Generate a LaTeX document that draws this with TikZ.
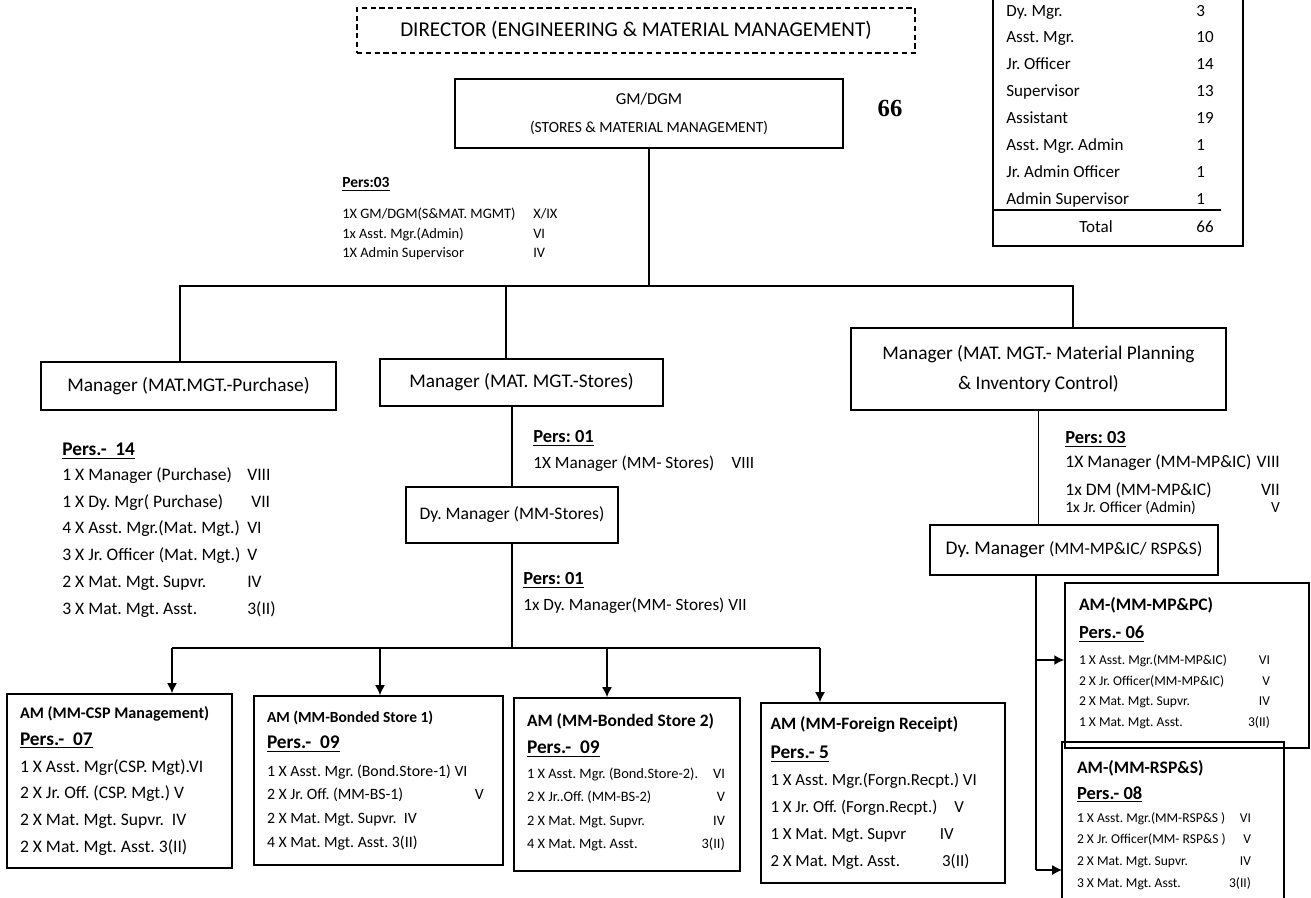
\documentclass[tikz,border=0pt]{standalone}
\usepackage{fontspec}
\setmainfont{Carlito}
\newfontfamily\bigserif{Liberation Serif}
\usetikzlibrary{positioning,arrows.meta}

\begin{document}
\frenchspacing
\begin{tikzpicture}[x=0.02cm,y=-0.02cm,
  unit/.style={draw=black,rectangle,line width=0.9pt,align=center,inner sep=2pt},
  ambox/.style={draw=black,rectangle,line width=0.9pt,align=flush left,inner xsep=0pt,inner ysep=3pt},
  pers/.style={align=left,inner sep=0pt,anchor=north west},
  tally/.style={inner sep=0pt,font=\fontsize{9.7}{12}\selectfont},
  link/.style={draw=black,line width=0.9pt},
  down/.style={-{Latex[length=2mm,width=2mm]},draw=black,line width=0.9pt}]
  \useasboundingbox (0,0) rectangle (1311,897);

  \node[unit,dash pattern=on 3pt off 2pt,minimum width=11.16cm,minimum height=0.9cm,font=\fontsize{12}{14}\selectfont] (dir) at (636,30.5) {DIRECTOR (ENGINEERING \& MATERIAL MANAGEMENT)};
  \node[unit,minimum width=7.76cm,minimum height=1.38cm,font=\fontsize{8.8}{16}\selectfont] (gm) at (649,113.5) {{\fontsize{9.5}{16}\selectfont GM/DGM}\\(STORES \& MATERIAL MANAGEMENT)};
  \node[inner sep=0pt,font=\bigserif\bfseries\fontsize{14}{16}\selectfont] (sum) at (890,108) {66};

  \foreach \lab/\num [count=\i from 0] in {Dy. Mgr./3,Asst. Mgr./10,Jr. Officer/14,Supervisor/13,Assistant/19,Asst. Mgr. Admin/1,Jr. Admin Officer/1,Admin Supervisor/1}
  {
    \node[tally,anchor=base west] (post\i) at (1006,{16+26.9*\i}) {\lab};
    \node[tally,anchor=base west] (count\i) at (1196,{16+26.9*\i}) {\num};
  }
  \node[tally,anchor=base] (totlab) at (1096,232) {Total};
  \node[tally,anchor=base west] (totnum) at (1196,232) {66};
  \draw[line width=0.9pt] (994,210) -- (1221,210);
  \draw[line width=0.9pt] (993,0) -- (993,246) -- (1243,246) -- (1243,0);

  \node[pers,font=\fontsize{8.2}{11}\selectfont] (gmpers) at (342,177) {\underline{\textbf{\fontsize{8.8}{11}\selectfont Pers:03}}\\[7pt]
    \begin{tabular}{@{}p{3.82cm}@{}l@{}}1X GM/DGM(S\&MAT. MGMT) & X/IX\\ 1x Asst. Mgr.(Admin) & VI\\ 1X Admin Supervisor & IV\end{tabular}};

  \node[unit,minimum width=5.9cm,minimum height=0.96cm,font=\fontsize{11}{13}\selectfont] (purch) at (188.5,386) {Manager (MAT.MGT.-Purchase)};
  \node[unit,minimum width=5.66cm,minimum height=0.94cm,font=\fontsize{11}{13}\selectfont] (stores) at (521.5,382.5) {Manager (MAT. MGT.-Stores)};
  \node[unit,minimum width=7.5cm,minimum height=1.64cm,font=\fontsize{11}{17}\selectfont] (mpic) at (1038.5,369) {Manager (MAT. MGT.- Material Planning\\\& Inventory Control)};

  \coordinate (busL) at (180,286);
  \coordinate (busM) at (506,286);
  \coordinate (busR) at (1073,286);
  \draw[link] (gm.south) -- (gm.south |- busL);
  \draw[link] (busL |- purch.north) -- (busL) -- (busR) -- (busR |- mpic.north);
  \draw[link] (busM) -- (busM |- stores.north);

  \node[pers,font=\fontsize{10}{15.3}\selectfont] (purchpers) at (62,443) {\underline{\textbf{\fontsize{11}{15.3}\selectfont Pers.-\ \ 14}}\\
    \begin{tabular}{@{}p{3.7cm}@{}l@{}}1 X Manager (Purchase) & VIII\\ 1 X Dy. Mgr( Purchase) & \ VII\\ 4 X Asst. Mgr.(Mat. Mgt.) & VI\\ 3 X Jr. Officer\ (Mat. Mgt.) & V\\ 2 X Mat. Mgt. Supvr. & IV\\ 3 X Mat. Mgt. Asst. & 3(II)\end{tabular}};

  \node[unit,minimum width=4.24cm,minimum height=1.12cm,font=\fontsize{10}{12}\selectfont] (dystores) at (512,515) {Dy. Manager (MM-Stores)};
  \draw[link] (dystores.north) -- (dystores.north |- stores.south);
  \node[pers,font=\fontsize{9.8}{14.7}\selectfont] (storespers) at (533,430) {\underline{\textbf{\fontsize{10.5}{14.7}\selectfont Pers: 01}}\\1X Manager (MM- Stores)\quad VIII};
  \node[pers,font=\fontsize{9.8}{14.7}\selectfont] (dystorespers) at (523,572) {\underline{\textbf{\fontsize{10.5}{14.7}\selectfont Pers: 01}}\\1x Dy. Manager(MM- Stores) VII};

  \node[ambox,minimum width=4.5cm,minimum height=3.48cm,text width=3.98cm,font=\fontsize{10}{15.3}\selectfont] (csp) at (119.5,781) {\textbf{\fontsize{9.2}{15.3}\selectfont AM (MM-CSP Management)}\\\underline{\textbf{\fontsize{11}{15.3}\selectfont Pers.-\ \ 07}}\\1 X Asst. Mgr(CSP. Mgt).VI\\2 X Jr. Off. (CSP. Mgt.) V\\2 X Mat. Mgt. Supvr.\ \ IV\\2 X Mat. Mgt. Asst. 3(II)};
  \node[ambox,minimum width=4.98cm,minimum height=3.38cm,text width=4.46cm,font=\fontsize{9}{13.6}\selectfont] (bs1) at (378.5,780.5) {\textbf{\fontsize{8.8}{13.6}\selectfont AM (MM-Bonded Store 1)}\\[1.5pt]\underline{\textbf{\fontsize{11}{13.6}\selectfont Pers.-\ \ 09}}\\[2pt]1 X Asst. Mgr. (Bond.Store-1) VI\\\makebox[4.16cm][l]{2 X Jr. Off. (MM-BS-1)}V\\2 X Mat. Mgt. Supvr.\ \ IV\\4 X Mat. Mgt. Asst. 3(II)};
  \node[ambox,minimum width=4.52cm,minimum height=3.46cm,text width=4.0cm,font=\fontsize{8.2}{13.2}\selectfont] (bs2) at (627,784.5) {\textbf{\fontsize{9.9}{13.2}\selectfont AM (MM-Bonded Store 2)}\\[2pt]\underline{\textbf{\fontsize{11}{13.2}\selectfont Pers.-\ \ 09}}\\[2pt]
    \begin{tabular*}{3.96cm}{@{}l@{\extracolsep{\fill}}r@{}}1 X Asst. Mgr. (Bond.Store-2). & VI\\2 X Jr..Off. (MM-BS-2) & V\\2 X Mat. Mgt. Supvr. & IV\\4 X Mat. Mgt. Asst. & 3(II)\end{tabular*}};
  \node[ambox,minimum width=4.88cm,minimum height=3.6cm,text width=4.5cm,font=\fontsize{9.6}{15.3}\selectfont] (fr) at (883,793) {\textbf{\fontsize{9.9}{15.3}\selectfont AM (MM-Foreign Receipt)}\\[1pt]\underline{\textbf{\fontsize{11}{15.3}\selectfont Pers.- 5}}\\1 X Asst. Mgr.(Forgn.Recpt.) VI\\1 X Jr. Off. (Forgn.Recpt.)\quad V\\1 X Mat. Mgt. Supvr\hspace{2em}IV\\2 X Mat. Mgt. Asst.\hspace{2.5em}3(II)};

  \coordinate (d1) at (172,648);
  \coordinate (d2) at (380,648);
  \coordinate (d3) at (607,648);
  \coordinate (d4) at (820,648);
  \draw[link] (dystores.south) -- (dystores.south |- d1);
  \draw[link] (d1) -- (d4);
  \draw[down] (d1) -- (d1 |- csp.north);
  \draw[down] (d2) -- (d2 |- bs1.north);
  \draw[down] (d3) -- (d3 |- bs2.north);
  \draw[down] (d4) -- (d4 |- fr.north);

  \node[pers,font=\fontsize{10}{15}\selectfont] (mpicpers) at (1065,431) {\underline{\textbf{\fontsize{10.5}{15}\selectfont Pers: 03}}\\
    \begin{tabular}{@{}l@{\hspace{3pt}}r@{}}1X Manager (MM-MP\&IC) & VIII\\[1pt] 1x DM (MM-MP\&IC) & VII\\[-5pt] {\fontsize{8.8}{10}\selectfont 1x Jr. Officer (Admin)} & {\fontsize{8.8}{10}\selectfont V}\end{tabular}};
  \node[unit,minimum width=5.76cm,minimum height=1.0cm] (dympic) at (1074,550) {{\fontsize{11}{13}\selectfont Dy. Manager }{\fontsize{10}{13}\selectfont (MM-MP\&IC/ RSP\&S)}};
  \draw[link] (mpic.south) -- (mpic.south |- dympic.north);

  \node[ambox,minimum width=4.88cm,minimum height=3.3cm,text width=4.32cm,font=\fontsize{7.7}{11.9}\selectfont] (mppc) at (1187,665.5) {\textbf{\fontsize{10}{11.9}\selectfont AM-(MM-MP\&PC)}\\[4pt]\underline{\textbf{\fontsize{10.5}{11.9}\selectfont Pers.- 06}}\\[3pt]
    \begin{tabular*}{3.82cm}{@{}l@{\extracolsep{\fill}}r@{}}1 X Asst. Mgr.(MM-MP\&IC) & VI\\2 X Jr. Officer(MM-MP\&IC) & V\\2 X Mat. Mgt. Supvr. & IV\\1 X Mat. Mgt. Asst. & 3(II)\end{tabular*}};
  \node[ambox,draw=none,anchor=north,minimum width=4.4cm,minimum height=3.36cm,text width=3.84cm,font=\fontsize{7.7}{12.3}\selectfont] (rsp) at (1173,742) {\textbf{\fontsize{10}{12.3}\selectfont AM-(MM-RSP\&S)}\\[2.5pt]\underline{\textbf{\fontsize{10.5}{12.3}\selectfont Pers.- 08}}\\[1.5pt]
    \begin{tabular*}{3.48cm}{@{}l@{\extracolsep{\fill}}r@{}}1 X Asst. Mgr.(MM-RSP\&S ) & VI\\2 X Jr. Officer(MM- RSP\&S ) & V\\2 X Mat. Mgt. Supvr. & IV\\3 X Mat. Mgt. Asst. & 3(II)\end{tabular*}};
  \draw[link] (rsp.south west) |- (rsp.north east) -- (rsp.south east);

  \coordinate (a1) at (1036,660);
  \coordinate (a2) at (1036,870);
  \draw[link] (dympic.south -| a1) -- (a2);
  \draw[down] (a1) -- (a1 -| mppc.west);
  \draw[down] (a2) -- (a2 -| rsp.west);
\end{tikzpicture}
\end{document}
